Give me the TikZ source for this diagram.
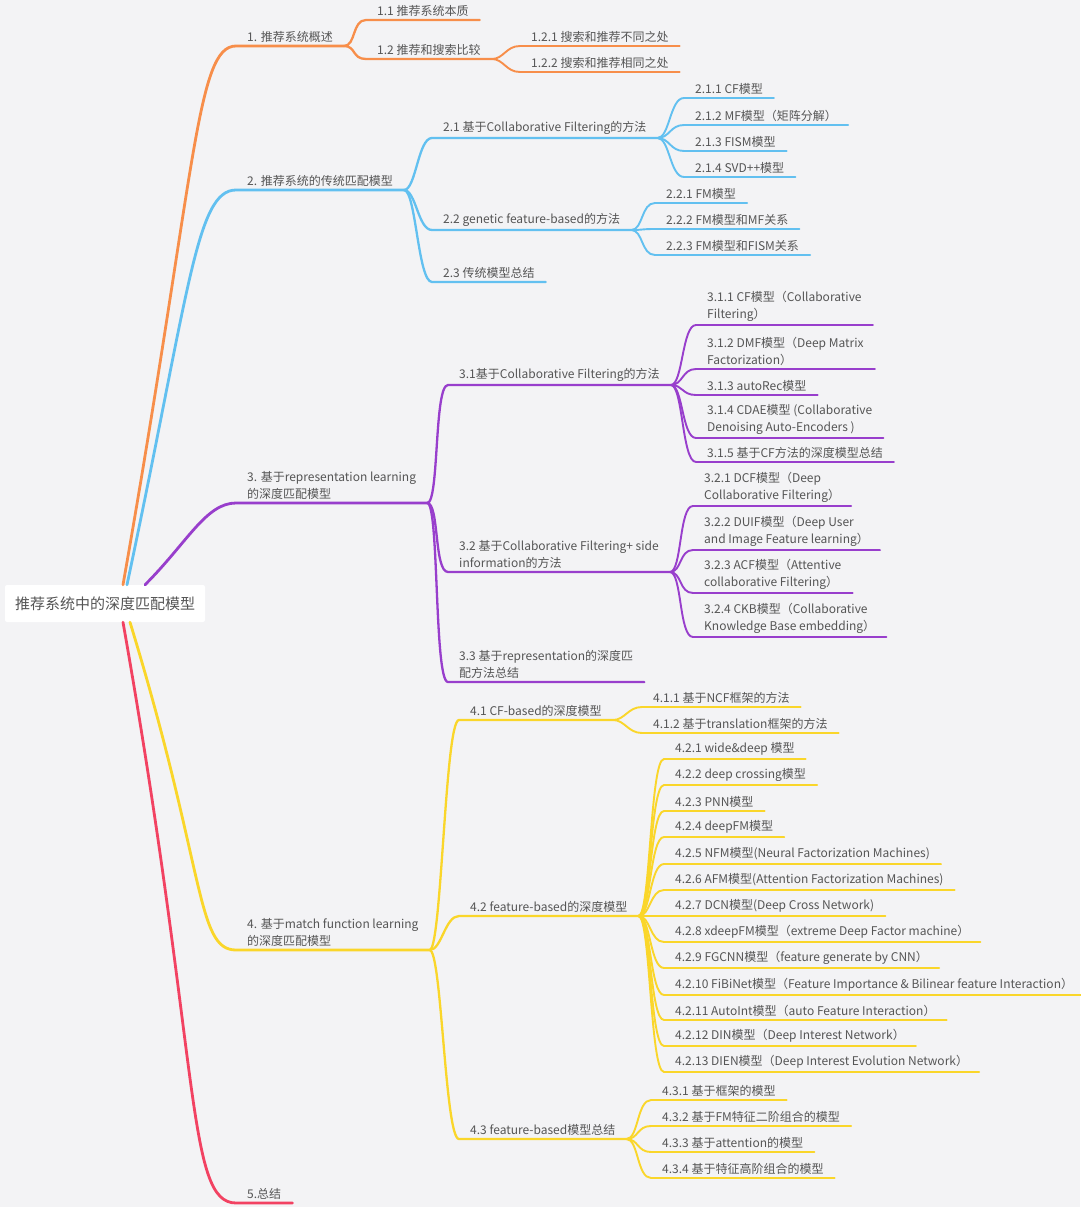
\documentclass[tikz,border=0pt]{standalone}
\usepackage{fontspec}
\setmainfont{Noto Sans CJK SC}
\usepackage{tikz}
\usetikzlibrary{calc}

\definecolor{bgc}{RGB}{243,243,245}
\definecolor{txt}{RGB}{85,85,85}
\definecolor{cOr}{RGB}{247,142,74}
\definecolor{cBl}{RGB}{98,192,240}
\definecolor{cPu}{RGB}{152,62,204}
\definecolor{cYe}{RGB}{250,214,42}
\definecolor{cRe}{RGB}{242,66,98}

\begin{document}
\begin{tikzpicture}[
    x=1pt, y=1pt,
    topic/.style={anchor=south west, inner xsep=11pt, inner ysep=3.5pt, align=left, text=txt, font=\fontsize{12}{17}\selectfont},
    rootbox/.style={rectangle, fill=white, rounded corners=2pt, minimum width=200pt, minimum height=37pt, text=txt, font=\fontsize{15}{18}\selectfont},
    l1/.style={line width=2.8pt, line cap=round, draw=#1},
    l2/.style={line width=2.3pt, line cap=round, draw=#1},
    l3/.style={line width=1.9pt, line cap=round, draw=#1},
    br/.style={out=0, in=180, out distance=12pt, in distance=14pt}
]
    % background and page size
    \fill [bgc] (0,0) rectangle (1080,-1207);
    \useasboundingbox (0,0) rectangle (1080,-1207);

    % root
    \node [rootbox] (root) at (105,-603.5) {推荐系统中的深度匹配模型};
    \coordinate (rOr) at ([xshift=18pt]root.north);
    \coordinate (rBl) at ([xshift=22pt]root.north);
    \coordinate (rPu) at ([xshift=40pt]root.north);
    \coordinate (rRe) at ([xshift=18pt]root.south);
    \coordinate (rYe) at ([xshift=25pt]root.south);

    % 1
    \node [topic] (n1) at (236,-46) {1. 推荐系统概述};
    \node [topic] (n11) at (366,-20) {1.1 推荐系统本质};
    \node [topic] (n12) at (366,-59) {1.2 推荐和搜索比较};
    \node [topic] (n121) at (520,-46) {1.2.1 搜索和推荐不同之处};
    \node [topic] (n122) at (520,-72) {1.2.2 搜索和推荐相同之处};

    % 2
    \node [topic] (n2) at (236,-190) {2. 推荐系统的传统匹配模型};
    \node [topic] (n21) at (432,-138) {2.1 基于Collaborative Filtering的方法};
    \node [topic] (n211) at (684,-98) {2.1.1 CF模型};
    \node [topic] (n212) at (684,-125) {2.1.2 MF模型（矩阵分解）};
    \node [topic] (n213) at (684,-151) {2.1.3 FISM模型};
    \node [topic] (n214) at (684,-177) {2.1.4 SVD++模型};
    \node [topic] (n22) at (432,-230) {2.2 genetic feature-based的方法};
    \node [topic] (n221) at (655,-203) {2.2.1 FM模型};
    \node [topic] (n222) at (655,-229) {2.2.2 FM模型和MF关系};
    \node [topic] (n223) at (655,-255) {2.2.3 FM模型和FISM关系};
    \node [topic] (n23) at (432,-282) {2.3 传统模型总结};

    % 3
    \node [topic] (n3) at (236,-503) {3. 基于representation learning\\的深度匹配模型};
    \node [topic] (n31) at (448,-385) {3.1基于Collaborative Filtering的方法};
    \node [topic] (n311) at (696,-325) {3.1.1 CF模型（Collaborative\\Filtering）};
    \node [topic] (n312) at (696,-369) {3.1.2 DMF模型（Deep Matrix\\Factorization）};
    \node [topic] (n313) at (696,-395) {3.1.3 autoRec模型};
    \node [topic] (n314) at (696,-438) {3.1.4 CDAE模型 (Collaborative\\Denoising Auto-Encoders )};
    \node [topic] (n315) at (696,-462) {3.1.5 基于CF方法的深度模型总结};
    \node [topic] (n32) at (448,-572) {3.2 基于Collaborative Filtering+ side\\information的方法};
    \node [topic] (n321) at (693,-506) {3.2.1 DCF模型（Deep\\Collaborative Filtering）};
    \node [topic] (n322) at (693,-550) {3.2.2 DUIF模型（Deep User\\and Image Feature learning）};
    \node [topic] (n323) at (693,-593) {3.2.3 ACF模型（Attentive\\collaborative Filtering）};
    \node [topic] (n324) at (693,-637) {3.2.4 CKB模型（Collaborative\\Knowledge Base embedding）};
    \node [topic] (n33) at (448,-682) {3.3 基于representation的深度匹\\配方法总结};

    % 4
    \node [topic] (n4) at (236,-950) {4. 基于match function learning\\的深度匹配模型};
    \node [topic] (n41) at (459,-720) {4.1 CF-based的深度模型};
    \node [topic] (n411) at (642,-707) {4.1.1 基于NCF框架的方法};
    \node [topic] (n412) at (642,-733) {4.1.2 基于translation框架的方法};
    \node [topic] (n42) at (459,-916) {4.2 feature-based的深度模型};
    \node [topic] (n421) at (664,-759) {4.2.1 wide\&deep 模型};
    \node [topic] (n422) at (664,-785) {4.2.2 deep crossing模型};
    \node [topic] (n423) at (664,-811) {4.2.3 PNN模型};
    \node [topic] (n424) at (664,-837) {4.2.4 deepFM模型};
    \node [topic] (n425) at (664,-864) {4.2.5 NFM模型(Neural Factorization Machines)};
    \node [topic] (n426) at (664,-890) {4.2.6 AFM模型(Attention Factorization Machines)};
    \node [topic] (n427) at (664,-916) {4.2.7 DCN模型(Deep Cross Network)};
    \node [topic] (n428) at (664,-942) {4.2.8 xdeepFM模型（extreme Deep Factor machine）};
    \node [topic] (n429) at (664,-968) {4.2.9 FGCNN模型（feature generate by CNN）};
    \node [topic] (n4210) at (664,-995) {4.2.10 FiBiNet模型（Feature Importance \& Bilinear feature Interaction）};
    \node [topic] (n4211) at (664,-1020) {4.2.11 AutoInt模型（auto Feature Interaction）};
    \node [topic] (n4212) at (664,-1046) {4.2.12 DIN模型（Deep Interest Network）};
    \node [topic] (n4213) at (664,-1072) {4.2.13 DIEN模型（Deep Interest Evolution Network）};
    \node [topic] (n43) at (459,-1139) {4.3 feature-based模型总结};
    \node [topic] (n431) at (651,-1100) {4.3.1 基于框架的模型};
    \node [topic] (n432) at (651,-1126) {4.3.2 基于FM特征二阶组合的模型};
    \node [topic] (n433) at (651,-1152) {4.3.3 基于attention的模型};
    \node [topic] (n434) at (651,-1178) {4.3.4 基于特征高阶组合的模型};

    % 5
    \node [topic] (n5) at (236,-1203) {5.总结};

    % branches from the root
    \draw [l1=cOr] (rOr) to[out=80, in=180, out distance=420pt, in distance=40pt] (n1.south west) -- (n1.south east);
    \draw [l1=cBl] (rBl) to[out=78, in=180, out distance=300pt, in distance=40pt] (n2.south west) -- (n2.south east);
    \draw [l1=cPu] (rPu) to[out=45, in=180, out distance=60pt, in distance=30pt] (n3.south west) -- (n3.south east);
    \draw [l1=cYe] (rYe) to[out=-73, in=180, out distance=260pt, in distance=40pt] (n4.south west) -- (n4.south east);
    \draw [l1=cRe] (rRe) to[out=-80, in=180, out distance=450pt, in distance=50pt] (n5.south west) -- (n5.south east);

    % second and third levels
    \foreach \c in {11,12} \draw [l2=cOr] (n1.south east) to[br] (n\c.south west) -- (n\c.south east);
    \foreach \c in {121,122} \draw [l3=cOr] (n12.south east) to[br] (n\c.south west) -- (n\c.south east);

    \foreach \c in {21,22,23} \draw [l2=cBl] (n2.south east) to[br] (n\c.south west) -- (n\c.south east);
    \foreach \c in {211,212,213,214} \draw [l3=cBl] (n21.south east) to[br] (n\c.south west) -- (n\c.south east);
    \foreach \c in {221,222,223} \draw [l3=cBl] (n22.south east) to[br] (n\c.south west) -- (n\c.south east);

    \foreach \c in {31,32,33} \draw [l2=cPu] (n3.south east) to[br] (n\c.south west) -- (n\c.south east);
    \foreach \c in {311,312,313,314,315} \draw [l3=cPu] (n31.south east) to[br] (n\c.south west) -- (n\c.south east);
    \foreach \c in {321,322,323,324} \draw [l3=cPu] (n32.south east) to[br] (n\c.south west) -- (n\c.south east);

    \foreach \c in {41,42,43} \draw [l2=cYe] (n4.south east) to[br] (n\c.south west) -- (n\c.south east);
    \foreach \c in {411,412} \draw [l3=cYe] (n41.south east) to[br] (n\c.south west) -- (n\c.south east);
    \foreach \c in {421,422,423,424,425,426,427,428,429,4210,4211,4212,4213} \draw [l3=cYe] (n42.south east) to[br] (n\c.south west) -- (n\c.south east);
    \foreach \c in {431,432,433,434} \draw [l3=cYe] (n43.south east) to[br] (n\c.south west) -- (n\c.south east);
\end{tikzpicture}
\end{document}
